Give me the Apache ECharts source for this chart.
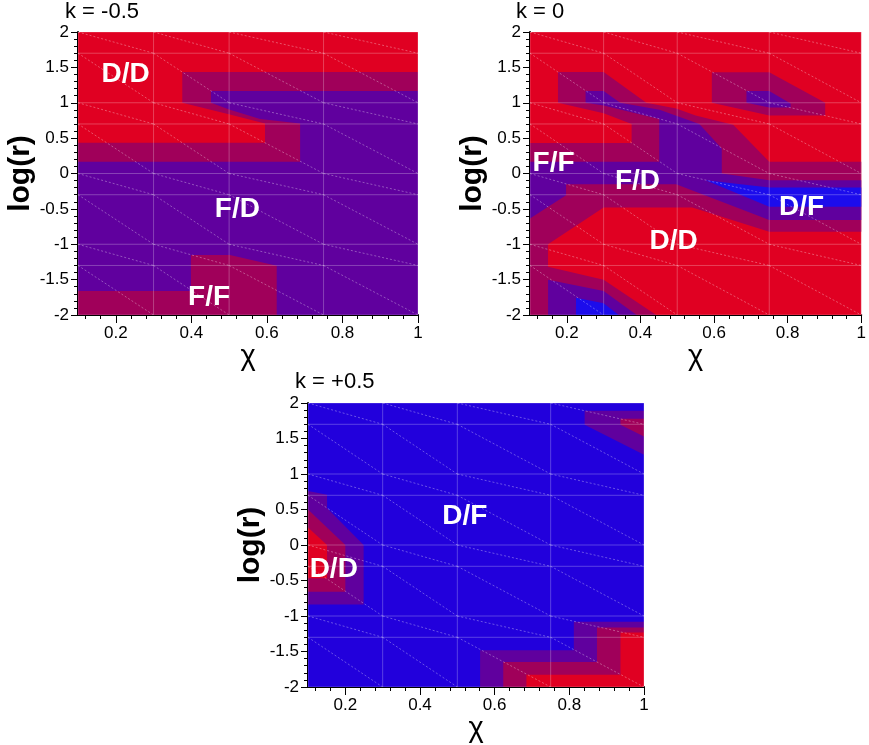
<!DOCTYPE html>
<html><head><meta charset="utf-8">
<script src="https://cdn.jsdelivr.net/npm/echarts@6/dist/echarts.min.js"></script>
<style>html,body{margin:0;padding:0;background:#fff}#c{width:869px;height:745px}</style>
</head><body><div id="c"></div>
<script>
// ---------- data ----------
const meshX = [0.1, 0.3, 0.5, 0.75, 1];
const meshY = [-2, -1.3, -1, -0.3, 0, 0.7, 1, 1.7, 2];
const xTicks = [0.2, 0.4, 0.6, 0.8, 1];
const xMinorTicks = [0.12,0.16,0.24,0.28,0.32,0.36,0.44,0.48,0.52,0.56,0.64,0.68,0.72,0.76,0.84,0.88,0.92,0.96];
const titles = ['k = -0.5', 'k = 0', 'k = +0.5'];
const FULL = [[0.1,2],[1,2],[1,-2],[0.1,-2]];

// regions (level, polygon vertices in chi / log(r) units), drawn in order
const regionsA = [
  {lvl:'pu', pts: FULL},
  {lvl:'rp', pts: [[0.1,2],[1,2],[1,1.167],[0.452,1.167],[0.452,1.0],[0.502,0.9],[0.582,0.77],[0.688,0.706],[0.688,0.165],[0.1,0.165]]},
  {lvl:'red', pts: [[0.1,2],[1,2],[1,1.435],[0.376,1.435],[0.376,1.0],[0.502,0.835],[0.582,0.725],[0.595,0.706],[0.595,0.433],[0.1,0.433]]},
  {lvl:'rp', pts: [[0.1,-1.661],[0.399,-1.661],[0.399,-1.153],[0.502,-1.153],[0.626,-1.304],[0.626,-2],[0.1,-2]]}
];
const regionsB = [
  {lvl:'red', pts: FULL},
  {lvl:'rp', pts: [[0.1,0.43],[0.376,0.43],[0.376,0.7],[0.3,0.852],[0.176,1.0],[0.176,1.435],[0.3,1.435],[0.416,1.0],[0.497,0.92],[0.55,0.82],[0.652,0.69],[0.75,0.167],[1,0.167],[1,-0.824],[0.75,-0.824],[0.541,-0.48],[0.3,-0.48],[0.149,-1.0],[0.149,-1.318],[0.3,-1.5],[0.443,-2],[0.1,-2]]},
  {lvl:'rp', pts: [[0.594,1.43],[0.75,1.43],[0.902,1.0],[0.902,0.82],[0.75,0.82],[0.594,1.0]]},
  {lvl:'pu', pts: [[0.1,0.167],[0.451,0.167],[0.451,0.77],[0.3,0.96],[0.251,1.0],[0.251,1.167],[0.3,1.167],[0.345,1.0],[0.452,0.9],[0.56,0.7],[0.621,0.353],[0.621,0],[0.75,-0.094],[1,-0.094],[1,-0.659],[0.75,-0.659],[0.497,-0.151],[0.198,-0.151],[0.198,-0.306],[0.1,-0.635]]},
  {lvl:'pu', pts: [[0.688,1.167],[0.75,1.167],[0.808,0.988],[0.808,0.932],[0.75,0.932],[0.688,1.0]]},
  {lvl:'pu', pts: [[0.149,-1.5],[0.3,-1.66],[0.39,-2],[0.149,-2]]},
  {lvl:'bb', pts: [[0.577,-0.094],[0.75,-0.198],[1,-0.198],[1,-0.47],[0.75,-0.47]]},
  {lvl:'bb', pts: [[0.225,-1.755],[0.3,-1.835],[0.341,-2],[0.225,-2]]}
];
const regionsC = [
  {lvl:'bl', pts: FULL},
  {lvl:'pu', pts: [[0.841,1.892],[1,1.892],[1,1.271],[0.841,1.694]]},
  {lvl:'rp', pts: [[0.937,1.779],[1,1.779],[1,1.529],[0.937,1.694]]},
  {lvl:'pu', pts: [[0.1,0.76],[0.151,0.706],[0.151,0.52],[0.249,0],[0.249,-0.838],[0.1,-0.838]]},
  {lvl:'rp', pts: [[0.1,0.5],[0.2,0],[0.2,-0.659],[0.1,-0.659]]},
  {lvl:'red', pts: [[0.1,0.245],[0.151,0],[0.151,-0.47],[0.1,-0.47]]},
  {lvl:'pu', pts: [[0.812,-1.082],[1,-1.082],[1,-2],[0.561,-2],[0.561,-1.482],[0.812,-1.482]]},
  {lvl:'rp', pts: [[0.874,-1.162],[1,-1.162],[1,-2],[0.623,-2],[0.623,-1.647],[0.874,-1.647]]},
  {lvl:'red', pts: [[0.937,-1.233],[1,-1.233],[1,-2],[0.685,-2],[0.685,-1.826],[0.937,-1.826]]}
];
const labelsA = [{text:'D/D', x:0.226, y:1.40},{text:'F/D', x:0.522, y:-0.51},{text:'F/F', x:0.447, y:-1.755}];
const labelsB = [{text:'F/F', x:0.164, y:0.141},{text:'F/D', x:0.392, y:-0.108},{text:'D/D', x:0.49, y:-0.965},{text:'D/F', x:0.838, y:-0.471}];
const labelsC = [{text:'D/F', x:0.52, y:0.40},{text:'D/D', x:0.169, y:-0.339}];

// ---------- styles ----------
const COLORS = {red:'#e00022', rp:'#a0005a', pu:'#60009e', bl:'#2200dc', bb:'#1c0cec'};
const FONT = '"Liberation Sans", Arial, sans-serif';

// mesh segments built from mesh arrays: [x1,y1,x2,y2,isDiag]
const meshSeg = [];
meshX.forEach(x => meshSeg.push([x, -2, x, 2, 0]));
meshY.forEach(y => meshSeg.push([0.1, y, 1, y, 0]));
for (let i = 0; i < meshX.length - 1; i++)
  for (let j = 0; j < meshY.length - 1; j++)
    meshSeg.push([meshX[i], meshY[j+1], meshX[i+1], meshY[j], 1]);

const panels = [
  {regions: regionsA, labels: labelsA, grid:{left:78, top:32, width:340, height:283}, title:{left:65, top:1}},
  {regions: regionsB, labels: labelsB, grid:{left:530, top:32, width:337, height:283}, title:{left:516, top:1}},
  {regions: regionsC, labels: labelsC, grid:{left:308, top:403, width:336, height:284}, title:{left:295, top:371}}
];

const option = {animation:false, grid:[], xAxis:[], yAxis:[], series:[], title:[]};
panels.forEach((p, k) => {
  option.grid.push(Object.assign({containLabel:false}, p.grid));
  option.title.push({text: titles[k], left:p.title.left, top:p.title.top, padding:0,
    textStyle:{fontSize:22, fontWeight:'normal', color:'#000', fontFamily:FONT}});
  option.xAxis.push({type:'value', gridIndex:k, min:0.1, max:1, position:'bottom',
    name:'χ', nameLocation:'middle', nameGap:19,
    nameTextStyle:{fontSize:29, color:'#000', fontFamily:FONT},
    axisLine:{show:true, onZero:false, lineStyle:{color:'#000', width:2}},
    axisTick:{show:true, customValues:xTicks, length:8, lineStyle:{color:'#000', width:1}},
    axisLabel:{customValues:xTicks, fontSize:17, color:'#000', margin:10, fontFamily:FONT},
    splitLine:{show:false}});
  option.xAxis.push({type:'value', gridIndex:k, min:0.1, max:1, position:'bottom',
    axisLine:{show:false, onZero:false},
    axisTick:{show:true, customValues:xMinorTicks, length:4, lineStyle:{color:'#000', width:1}},
    axisLabel:{show:false}, splitLine:{show:false}});
  option.yAxis.push({type:'value', gridIndex:k, min:-2, max:2, interval:0.5,
    name:'log(r)', nameLocation:'middle', nameGap:38,
    nameTextStyle:{fontSize:30, fontWeight:'bold', color:'#000', fontFamily:FONT},
    axisLine:{show:true, onZero:false, lineStyle:{color:'#000', width:2}},
    axisTick:{show:true, length:7, lineStyle:{color:'#000', width:1}},
    minorTick:{show:true, splitNumber:5, length:4, lineStyle:{color:'#000', width:1}},
    axisLabel:{fontSize:17, color:'#000', margin:9, fontFamily:FONT},
    splitLine:{show:false}, minorSplitLine:{show:false}});
  const regs = p.regions;
  option.series.push({type:'custom', xAxisIndex:2*k, yAxisIndex:k, clip:true, silent:true,
    data: regs.map((r, i) => [r.pts[0][0], r.pts[0][1], i]),
    renderItem: function(params, api){
      const r = regs[api.value(2)];
      return {type:'polygon', shape:{points: r.pts.map(q => api.coord(q))}, style:{fill: COLORS[r.lvl]}};
    }});
  option.series.push({type:'custom', xAxisIndex:2*k, yAxisIndex:k, clip:true, silent:true,
    data: meshSeg,
    renderItem: function(params, api){
      const a = api.coord([api.value(0), api.value(1)]);
      const b = api.coord([api.value(2), api.value(3)]);
      const d = api.value(4) === 1;
      return {type:'line', shape:{x1:a[0], y1:a[1], x2:b[0], y2:b[1]},
        style:{stroke: d ? 'rgba(255,255,255,0.32)' : 'rgba(255,255,255,0.25)', lineWidth:1, lineDash: d ? [2,2] : null}};
    }});
  option.series.push({type:'scatter', xAxisIndex:2*k, yAxisIndex:k, symbolSize:0, silent:true,
    itemStyle:{opacity:1},
    data: p.labels.map(l => ({value:[l.x, l.y], name:l.text})),
    label:{show:true, position:'inside', formatter:'{b}', color:'#ffffff', opacity:1, fontSize:28, fontWeight:'bold', fontFamily:FONT}});
});

const chart = echarts.init(document.getElementById('c'), null, {renderer:'canvas'});
chart.setOption(option);
</script></body></html>
